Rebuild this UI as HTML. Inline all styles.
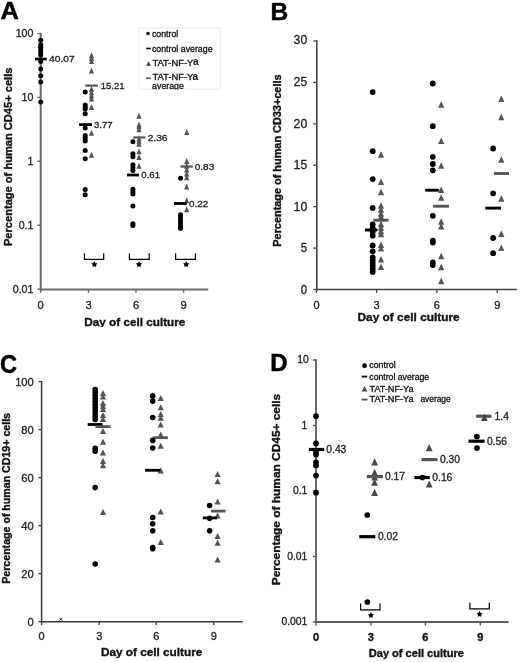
<!DOCTYPE html>
<html><head><meta charset="utf-8">
<style>
html,body{margin:0;padding:0;background:#fff;}
body{width:520px;height:662px;overflow:hidden;}
svg{display:block;font-family:"Liberation Sans", sans-serif;filter:blur(0.45px);}
</style></head>
<body>
<svg width="520" height="662" viewBox="0 0 520 662">
<rect width="520" height="662" fill="#fff"/>
<text transform="translate(0.5,19.2) scale(1.06,1.0)" x="0" y="0" font-size="24" font-weight="bold" fill="#000" stroke="#000" stroke-width="0.5">A</text>
<line x1="40.7" y1="32.7" x2="40.7" y2="290.4" stroke="#6c6c6c" stroke-width="2.0"/>
<line x1="39.7" y1="289.4" x2="208.3" y2="289.4" stroke="#6c6c6c" stroke-width="2.0"/>
<line x1="37.4" y1="33.5" x2="40.7" y2="33.5" stroke="#6c6c6c" stroke-width="1.4"/>
<text x="33.4" y="37.3" font-size="10.6" text-anchor="end" fill="#222" stroke="#222" stroke-width="0.3">100</text>
<line x1="37.4" y1="97.4" x2="40.7" y2="97.4" stroke="#6c6c6c" stroke-width="1.4"/>
<text x="33.4" y="101.2" font-size="10.6" text-anchor="end" fill="#222" stroke="#222" stroke-width="0.3">10</text>
<line x1="37.4" y1="161.3" x2="40.7" y2="161.3" stroke="#6c6c6c" stroke-width="1.4"/>
<text x="33.4" y="165.10000000000002" font-size="10.6" text-anchor="end" fill="#222" stroke="#222" stroke-width="0.3">1</text>
<line x1="37.4" y1="225.2" x2="40.7" y2="225.2" stroke="#6c6c6c" stroke-width="1.4"/>
<text x="33.4" y="229.0" font-size="10.6" text-anchor="end" fill="#222" stroke="#222" stroke-width="0.3">0.1</text>
<line x1="37.4" y1="289.1" x2="40.7" y2="289.1" stroke="#6c6c6c" stroke-width="1.4"/>
<text x="33.4" y="292.90000000000003" font-size="10.6" text-anchor="end" fill="#222" stroke="#222" stroke-width="0.3">0.01</text>
<line x1="40.7" y1="289.4" x2="40.7" y2="292.79999999999995" stroke="#6c6c6c" stroke-width="1.4"/>
<text x="40.7" y="308.6" font-size="11.2" text-anchor="middle" fill="#222" stroke="#222" stroke-width="0.3">0</text>
<line x1="88.5" y1="289.4" x2="88.5" y2="292.79999999999995" stroke="#6c6c6c" stroke-width="1.4"/>
<text x="88.5" y="308.6" font-size="11.2" text-anchor="middle" fill="#222" stroke="#222" stroke-width="0.3">3</text>
<line x1="136.0" y1="289.4" x2="136.0" y2="292.79999999999995" stroke="#6c6c6c" stroke-width="1.4"/>
<text x="136.0" y="308.6" font-size="11.2" text-anchor="middle" fill="#222" stroke="#222" stroke-width="0.3">6</text>
<line x1="183.6" y1="289.4" x2="183.6" y2="292.79999999999995" stroke="#6c6c6c" stroke-width="1.4"/>
<text x="183.6" y="308.6" font-size="11.2" text-anchor="middle" fill="#222" stroke="#222" stroke-width="0.3">9</text>
<text x="84.3" y="325.8" font-size="11.7" text-anchor="start" font-weight="bold" fill="#111" textLength="101" lengthAdjust="spacingAndGlyphs" stroke="#111" stroke-width="0.35">Day of cell culture</text>
<rect x="80" y="327" width="120" height="4" fill="#fff"/>
<text transform="translate(11.9,156.8) rotate(-90) scale(1,1.0)" x="0" y="0" font-size="11" text-anchor="middle" font-weight="bold" fill="#111" stroke="#111" stroke-width="0.35" textLength="178.5" lengthAdjust="spacingAndGlyphs">Percentage of human CD45+ cells</text>
<circle cx="40.7" cy="40.3" r="2.5" fill="#000"/>
<circle cx="40.7" cy="44.8" r="2.5" fill="#000"/>
<circle cx="40.7" cy="47.3" r="2.5" fill="#000"/>
<circle cx="40.7" cy="49.8" r="2.5" fill="#000"/>
<circle cx="40.7" cy="52.3" r="2.5" fill="#000"/>
<circle cx="40.7" cy="55.0" r="2.5" fill="#000"/>
<circle cx="40.7" cy="61.6" r="2.5" fill="#000"/>
<circle cx="40.7" cy="68.9" r="2.5" fill="#000"/>
<circle cx="40.7" cy="75.7" r="2.5" fill="#000"/>
<circle cx="40.7" cy="81.9" r="2.5" fill="#000"/>
<circle cx="40.7" cy="101.9" r="2.5" fill="#000"/>
<rect x="35.0" y="57.60" width="11.70" height="2.8" fill="#000"/>
<text x="49.1" y="62.4" font-size="9.5" text-anchor="start" fill="#222" textLength="25.52" lengthAdjust="spacingAndGlyphs" stroke="#222" stroke-width="0.3">40.07</text>
<polygon points="88.90,92.00 94.10,92.00 91.50,86.00" fill="#555555"/>
<polygon points="88.90,95.20 94.10,95.20 91.50,89.20" fill="#555555"/>
<polygon points="88.90,98.40 94.10,98.40 91.50,92.40" fill="#555555"/>
<polygon points="88.90,101.40 94.10,101.40 91.50,95.40" fill="#555555"/>
<polygon points="88.90,58.20 94.10,58.20 91.50,52.20" fill="#555555"/>
<polygon points="88.90,61.00 94.10,61.00 91.50,55.00" fill="#555555"/>
<polygon points="88.90,64.00 94.10,64.00 91.50,58.00" fill="#555555"/>
<polygon points="88.90,73.40 94.10,73.40 91.50,67.40" fill="#555555"/>
<polygon points="88.90,110.00 94.10,110.00 91.50,104.00" fill="#555555"/>
<polygon points="88.90,135.70 94.10,135.70 91.50,129.70" fill="#555555"/>
<polygon points="88.90,157.80 94.10,157.80 91.50,151.80" fill="#555555"/>
<rect x="85.4" y="84.50" width="12.50" height="2.2" fill="#555555"/>
<text x="100.7" y="89.0" font-size="9.8" text-anchor="start" fill="#222" textLength="23.9" lengthAdjust="spacingAndGlyphs" stroke="#222" stroke-width="0.3">15.21</text>
<circle cx="85.2" cy="92.0" r="2.5" fill="#000"/>
<circle cx="85.2" cy="105.0" r="2.5" fill="#000"/>
<circle cx="85.2" cy="107.0" r="2.5" fill="#000"/>
<circle cx="85.2" cy="109.0" r="2.5" fill="#000"/>
<circle cx="85.2" cy="113.8" r="2.5" fill="#000"/>
<circle cx="85.2" cy="127.9" r="2.5" fill="#000"/>
<circle cx="85.2" cy="135.6" r="2.5" fill="#000"/>
<circle cx="85.2" cy="138.0" r="2.5" fill="#000"/>
<circle cx="85.2" cy="141.0" r="2.5" fill="#000"/>
<circle cx="85.2" cy="150.4" r="2.5" fill="#000"/>
<circle cx="85.2" cy="158.7" r="2.5" fill="#000"/>
<circle cx="85.2" cy="189.6" r="2.5" fill="#000"/>
<circle cx="85.2" cy="194.8" r="2.5" fill="#000"/>
<rect x="79.0" y="123.20" width="13.00" height="2.8" fill="#000"/>
<text x="94.0" y="128.0" font-size="9.8" text-anchor="start" fill="#222" textLength="18.7" lengthAdjust="spacingAndGlyphs" stroke="#222" stroke-width="0.3">3.77</text>
<polygon points="136.40,118.80 141.60,118.80 139.00,112.80" fill="#555555"/>
<polygon points="136.40,127.40 141.60,127.40 139.00,121.40" fill="#555555"/>
<polygon points="136.40,129.30 141.60,129.30 139.00,123.30" fill="#555555"/>
<polygon points="136.40,132.20 141.60,132.20 139.00,126.20" fill="#555555"/>
<polygon points="136.40,141.50 141.60,141.50 139.00,135.50" fill="#555555"/>
<polygon points="136.40,143.80 141.60,143.80 139.00,137.80" fill="#555555"/>
<polygon points="136.40,146.70 141.60,146.70 139.00,140.70" fill="#555555"/>
<polygon points="136.40,154.30 141.60,154.30 139.00,148.30" fill="#555555"/>
<polygon points="136.40,160.10 141.60,160.10 139.00,154.10" fill="#555555"/>
<polygon points="136.40,168.80 141.60,168.80 139.00,162.80" fill="#555555"/>
<rect x="133.3" y="136.40" width="12.10" height="2.2" fill="#555555"/>
<text x="147.7" y="140.9" font-size="9.5" text-anchor="start" fill="#222" textLength="19.85" lengthAdjust="spacingAndGlyphs" stroke="#222" stroke-width="0.3">2.36</text>
<circle cx="132.9" cy="141.7" r="2.5" fill="#000"/>
<circle cx="132.9" cy="153.8" r="2.5" fill="#000"/>
<circle cx="132.9" cy="156.7" r="2.5" fill="#000"/>
<circle cx="132.9" cy="164.8" r="2.5" fill="#000"/>
<circle cx="132.9" cy="167.7" r="2.5" fill="#000"/>
<circle cx="132.9" cy="170.6" r="2.5" fill="#000"/>
<circle cx="132.9" cy="189.2" r="2.5" fill="#000"/>
<circle cx="132.9" cy="191.7" r="2.5" fill="#000"/>
<circle cx="132.9" cy="194.0" r="2.5" fill="#000"/>
<circle cx="132.9" cy="206.0" r="2.5" fill="#000"/>
<circle cx="132.9" cy="223.7" r="2.5" fill="#000"/>
<circle cx="132.9" cy="225.6" r="2.5" fill="#000"/>
<rect x="126.9" y="173.60" width="12.10" height="2.8" fill="#000"/>
<text x="141.3" y="178.4" font-size="9.5" text-anchor="start" fill="#222" textLength="18.7" lengthAdjust="spacingAndGlyphs" stroke="#222" stroke-width="0.3">0.61</text>
<polygon points="184.10,135.10 189.30,135.10 186.70,129.10" fill="#555555"/>
<polygon points="184.10,164.00 189.30,164.00 186.70,158.00" fill="#555555"/>
<polygon points="184.10,168.80 189.30,168.80 186.70,162.80" fill="#555555"/>
<polygon points="184.10,172.60 189.30,172.60 186.70,166.60" fill="#555555"/>
<polygon points="184.10,176.50 189.30,176.50 186.70,170.50" fill="#555555"/>
<polygon points="184.10,180.30 189.30,180.30 186.70,174.30" fill="#555555"/>
<polygon points="184.10,189.50 189.30,189.50 186.70,183.50" fill="#555555"/>
<polygon points="184.10,203.30 189.30,203.30 186.70,197.30" fill="#555555"/>
<polygon points="184.10,212.20 189.30,212.20 186.70,206.20" fill="#555555"/>
<rect x="180.4" y="165.40" width="12.50" height="2.2" fill="#555555"/>
<text x="194.8" y="169.9" font-size="9.5" text-anchor="start" fill="#222" textLength="19.4" lengthAdjust="spacingAndGlyphs" stroke="#222" stroke-width="0.3">0.83</text>
<circle cx="180.5" cy="178.3" r="2.5" fill="#000"/>
<circle cx="180.5" cy="214.7" r="2.5" fill="#000"/>
<circle cx="180.5" cy="217.5" r="2.5" fill="#000"/>
<circle cx="180.5" cy="220.3" r="2.5" fill="#000"/>
<circle cx="180.5" cy="223.1" r="2.5" fill="#000"/>
<circle cx="180.5" cy="225.9" r="2.5" fill="#000"/>
<circle cx="180.5" cy="228.6" r="2.5" fill="#000"/>
<rect x="174.0" y="202.10" width="12.70" height="2.8" fill="#000"/>
<text x="189.0" y="206.7" font-size="9.5" text-anchor="start" fill="#222" textLength="19.4" lengthAdjust="spacingAndGlyphs" stroke="#222" stroke-width="0.3">0.22</text>
<polyline points="84.4,253.2 84.4,259.3 103.7,259.3 103.7,253.2" fill="none" stroke="#000" stroke-width="1.2"/>
<polygon points="94.40,261.30 95.43,263.08 97.44,263.51 96.07,265.04 96.28,267.09 94.40,266.26 92.52,267.09 92.73,265.04 91.36,263.51 93.37,263.08" fill="#000"/>
<polyline points="129.4,253.2 129.4,259.3 149.2,259.3 149.2,253.2" fill="none" stroke="#000" stroke-width="1.2"/>
<polygon points="139.00,261.30 140.03,263.08 142.04,263.51 140.67,265.04 140.88,267.09 139.00,266.26 137.12,267.09 137.33,265.04 135.96,263.51 137.97,263.08" fill="#000"/>
<polyline points="175.6,253.2 175.6,259.3 195.4,259.3 195.4,253.2" fill="none" stroke="#000" stroke-width="1.2"/>
<polygon points="186.20,261.30 187.23,263.08 189.24,263.51 187.87,265.04 188.08,267.09 186.20,266.26 184.32,267.09 184.53,265.04 183.16,263.51 185.17,263.08" fill="#000"/>
<rect x="138.7" y="28.1" width="81.7" height="61.1" fill="#fff" stroke="#ebebeb" stroke-width="1"/>
<circle cx="148.0" cy="33.5" r="1.8" fill="#000"/>
<text x="151.9" y="36.6" font-size="8.8" text-anchor="start" fill="#111" stroke="#111" stroke-width="0.3">control</text>
<rect x="146.2" y="47.70" width="4.70" height="1.6" fill="#000"/>
<text x="151.9" y="51.7" font-size="8.8" text-anchor="start" fill="#111" stroke="#111" stroke-width="0.3">control average</text>
<polygon points="146.20,65.70 150.80,65.70 148.50,61.30" fill="#3a3a3a"/>
<text x="152.4" y="65.7" font-size="8.8" text-anchor="start" fill="#111" textLength="41.0" lengthAdjust="spacingAndGlyphs" stroke="#111" stroke-width="0.3">TAT-NF-Y</text>
<text x="192.9" y="64.5" font-size="10.0" text-anchor="start" font-weight="bold" fill="#1a1a1a" stroke="#1a1a1a" stroke-width="0.1">a</text>
<rect x="145.9" y="77.50" width="4.90" height="1.4" fill="#444"/>
<text x="152.4" y="80.4" font-size="8.8" text-anchor="start" fill="#111" textLength="41.0" lengthAdjust="spacingAndGlyphs" stroke="#111" stroke-width="0.3">TAT-NF-Y</text>
<text x="192.6" y="79.6" font-size="10.0" text-anchor="start" font-weight="bold" fill="#1a1a1a" stroke="#1a1a1a" stroke-width="0.1">a</text>
<text x="152.1" y="89.4" font-size="8.8" text-anchor="start" fill="#111" stroke="#111" stroke-width="0.3">average</text>
<rect x="150" y="89.7" width="40" height="3" fill="#fff"/>
<text transform="translate(270.6,19.5) scale(1.02,1.0)" x="0" y="0" font-size="24" font-weight="bold" fill="#000" stroke="#000" stroke-width="0.5">B</text>
<line x1="316.8" y1="40.31000000000002" x2="316.8" y2="290.3" stroke="#444" stroke-width="1.6"/>
<line x1="316.0" y1="289.5" x2="516.8" y2="289.5" stroke="#444" stroke-width="1.6"/>
<line x1="313.2" y1="289.5" x2="316.8" y2="289.5" stroke="#444" stroke-width="1.3"/>
<text x="307.2" y="293.5" font-size="12.4" text-anchor="end" fill="#222" textLength="6.4" lengthAdjust="spacingAndGlyphs" stroke="#222" stroke-width="0.3">0</text>
<line x1="313.2" y1="248.085" x2="316.8" y2="248.085" stroke="#444" stroke-width="1.3"/>
<text x="307.2" y="252.085" font-size="12.4" text-anchor="end" fill="#222" textLength="6.4" lengthAdjust="spacingAndGlyphs" stroke="#222" stroke-width="0.3">5</text>
<line x1="313.2" y1="206.67000000000002" x2="316.8" y2="206.67000000000002" stroke="#444" stroke-width="1.3"/>
<text x="307.2" y="210.67000000000002" font-size="12.4" text-anchor="end" fill="#222" textLength="13.6" lengthAdjust="spacingAndGlyphs" stroke="#222" stroke-width="0.3">10</text>
<line x1="313.2" y1="165.255" x2="316.8" y2="165.255" stroke="#444" stroke-width="1.3"/>
<text x="307.2" y="169.255" font-size="12.4" text-anchor="end" fill="#222" textLength="13.6" lengthAdjust="spacingAndGlyphs" stroke="#222" stroke-width="0.3">15</text>
<line x1="313.2" y1="123.84" x2="316.8" y2="123.84" stroke="#444" stroke-width="1.3"/>
<text x="307.2" y="127.84" font-size="12.4" text-anchor="end" fill="#222" textLength="13.6" lengthAdjust="spacingAndGlyphs" stroke="#222" stroke-width="0.3">20</text>
<line x1="313.2" y1="82.42500000000001" x2="316.8" y2="82.42500000000001" stroke="#444" stroke-width="1.3"/>
<text x="307.2" y="86.42500000000001" font-size="12.4" text-anchor="end" fill="#222" textLength="13.6" lengthAdjust="spacingAndGlyphs" stroke="#222" stroke-width="0.3">25</text>
<line x1="313.2" y1="41.01000000000002" x2="316.8" y2="41.01000000000002" stroke="#444" stroke-width="1.3"/>
<text x="307.2" y="44.01000000000002" font-size="12.4" text-anchor="end" fill="#222" textLength="13.6" lengthAdjust="spacingAndGlyphs" stroke="#222" stroke-width="0.3">30</text>
<line x1="316.5" y1="289.5" x2="316.5" y2="292.9" stroke="#444" stroke-width="1.3"/>
<text x="316.5" y="308.7" font-size="11.0" text-anchor="middle" fill="#222" stroke="#222" stroke-width="0.3">0</text>
<line x1="376.6" y1="289.5" x2="376.6" y2="292.9" stroke="#444" stroke-width="1.3"/>
<text x="376.6" y="308.7" font-size="11.0" text-anchor="middle" fill="#222" stroke="#222" stroke-width="0.3">3</text>
<line x1="436.9" y1="289.5" x2="436.9" y2="292.9" stroke="#444" stroke-width="1.3"/>
<text x="436.9" y="308.7" font-size="11.0" text-anchor="middle" fill="#222" stroke="#222" stroke-width="0.3">6</text>
<line x1="497.2" y1="289.5" x2="497.2" y2="292.9" stroke="#444" stroke-width="1.3"/>
<text x="497.2" y="308.7" font-size="11.0" text-anchor="middle" fill="#222" stroke="#222" stroke-width="0.3">9</text>
<text x="357.5" y="320.6" font-size="11.3" text-anchor="start" font-weight="bold" fill="#111" textLength="102.2" lengthAdjust="spacingAndGlyphs" stroke="#111" stroke-width="0.35">Day of cell culture</text>
<text transform="translate(280.5,160.6) rotate(-90) scale(1,1.0)" x="0" y="0" font-size="10.2" text-anchor="middle" font-weight="bold" fill="#111" stroke="#111" stroke-width="0.35" textLength="172.2" lengthAdjust="spacingAndGlyphs">Percentage of human CD33+cells</text>
<polygon points="377.85,157.85 384.15,157.85 381.00,151.35" fill="#555555"/>
<polygon points="377.85,185.05 384.15,185.05 381.00,178.55" fill="#555555"/>
<polygon points="377.85,195.25 384.15,195.25 381.00,188.75" fill="#555555"/>
<polygon points="377.85,208.75 384.15,208.75 381.00,202.25" fill="#555555"/>
<polygon points="377.85,212.75 384.15,212.75 381.00,206.25" fill="#555555"/>
<polygon points="377.85,216.75 384.15,216.75 381.00,210.25" fill="#555555"/>
<polygon points="377.85,219.75 384.15,219.75 381.00,213.25" fill="#555555"/>
<polygon points="377.85,227.25 384.15,227.25 381.00,220.75" fill="#555555"/>
<polygon points="377.85,230.75 384.15,230.75 381.00,224.25" fill="#555555"/>
<polygon points="377.85,234.25 384.15,234.25 381.00,227.75" fill="#555555"/>
<polygon points="377.85,237.25 384.15,237.25 381.00,230.75" fill="#555555"/>
<polygon points="377.85,248.05 384.15,248.05 381.00,241.55" fill="#555555"/>
<polygon points="377.85,251.55 384.15,251.55 381.00,245.05" fill="#555555"/>
<polygon points="377.85,262.45 384.15,262.45 381.00,255.95" fill="#555555"/>
<polygon points="377.85,269.95 384.15,269.95 381.00,263.45" fill="#555555"/>
<rect x="373.4" y="218.75" width="15.20" height="2.9" fill="#555555"/>
<circle cx="372.7" cy="92.1" r="2.9" fill="#000"/>
<circle cx="372.7" cy="151.2" r="2.9" fill="#000"/>
<circle cx="372.7" cy="179.1" r="2.9" fill="#000"/>
<circle cx="372.7" cy="208.0" r="2.9" fill="#000"/>
<circle cx="372.7" cy="224.4" r="2.9" fill="#000"/>
<circle cx="372.7" cy="228.2" r="2.9" fill="#000"/>
<circle cx="372.7" cy="232.0" r="2.9" fill="#000"/>
<circle cx="372.7" cy="235.7" r="2.9" fill="#000"/>
<circle cx="372.7" cy="245.4" r="2.9" fill="#000"/>
<circle cx="372.7" cy="251.3" r="2.9" fill="#000"/>
<circle cx="372.7" cy="257.3" r="2.9" fill="#000"/>
<circle cx="372.7" cy="260.2" r="2.9" fill="#000"/>
<circle cx="372.7" cy="263.1" r="2.9" fill="#000"/>
<circle cx="372.7" cy="266.0" r="2.9" fill="#000"/>
<circle cx="372.7" cy="269.0" r="2.9" fill="#000"/>
<circle cx="372.7" cy="272.0" r="2.9" fill="#000"/>
<rect x="365.0" y="228.55" width="12.50" height="2.9" fill="#000"/>
<polygon points="438.05,107.85 444.35,107.85 441.20,101.35" fill="#555555"/>
<polygon points="438.05,144.05 444.35,144.05 441.20,137.55" fill="#555555"/>
<polygon points="438.05,168.75 444.35,168.75 441.20,162.25" fill="#555555"/>
<polygon points="438.05,193.05 444.35,193.05 441.20,186.55" fill="#555555"/>
<polygon points="438.05,200.75 444.35,200.75 441.20,194.25" fill="#555555"/>
<polygon points="438.05,224.75 444.35,224.75 441.20,218.25" fill="#555555"/>
<polygon points="438.05,229.55 444.35,229.55 441.20,223.05" fill="#555555"/>
<polygon points="438.05,259.25 444.35,259.25 441.20,252.75" fill="#555555"/>
<polygon points="438.05,270.15 444.35,270.15 441.20,263.65" fill="#555555"/>
<polygon points="438.05,284.25 444.35,284.25 441.20,277.75" fill="#555555"/>
<rect x="433.1" y="204.75" width="15.80" height="2.9" fill="#555555"/>
<circle cx="432.8" cy="83.5" r="2.9" fill="#000"/>
<circle cx="432.8" cy="126.2" r="2.9" fill="#000"/>
<circle cx="432.8" cy="156.8" r="2.9" fill="#000"/>
<circle cx="432.8" cy="164.0" r="2.9" fill="#000"/>
<circle cx="432.8" cy="170.3" r="2.9" fill="#000"/>
<circle cx="432.8" cy="215.8" r="2.9" fill="#000"/>
<circle cx="432.8" cy="240.6" r="2.9" fill="#000"/>
<circle cx="432.8" cy="242.5" r="2.9" fill="#000"/>
<circle cx="432.8" cy="262.3" r="2.9" fill="#000"/>
<circle cx="432.8" cy="265.0" r="2.9" fill="#000"/>
<rect x="425.2" y="188.75" width="13.60" height="2.9" fill="#000"/>
<polygon points="498.15,102.05 504.45,102.05 501.30,95.55" fill="#555555"/>
<polygon points="498.15,120.35 504.45,120.35 501.30,113.85" fill="#555555"/>
<polygon points="498.15,162.65 504.45,162.65 501.30,156.15" fill="#555555"/>
<polygon points="498.15,201.75 504.45,201.75 501.30,195.25" fill="#555555"/>
<polygon points="498.15,237.05 504.45,237.05 501.30,230.55" fill="#555555"/>
<polygon points="498.15,250.95 504.45,250.95 501.30,244.45" fill="#555555"/>
<rect x="494.0" y="172.05" width="15.00" height="2.9" fill="#555555"/>
<circle cx="493.1" cy="148.5" r="2.9" fill="#000"/>
<circle cx="493.1" cy="193.3" r="2.9" fill="#000"/>
<circle cx="493.1" cy="238.0" r="2.9" fill="#000"/>
<circle cx="493.1" cy="253.2" r="2.9" fill="#000"/>
<rect x="485.4" y="206.65" width="15.60" height="2.9" fill="#000"/>
<text transform="translate(0.0,372.6) scale(0.98,1.07)" x="0" y="0" font-size="24" font-weight="bold" fill="#000" stroke="#000" stroke-width="0.5">C</text>
<line x1="41.6" y1="380.9000000000001" x2="41.6" y2="622.5" stroke="#3a3a3a" stroke-width="1.5"/>
<line x1="40.800000000000004" y1="621.7" x2="242.7" y2="621.7" stroke="#3a3a3a" stroke-width="1.5"/>
<line x1="38.6" y1="621.7" x2="41.6" y2="621.7" stroke="#3a3a3a" stroke-width="1.3"/>
<text x="33.8" y="625.7" font-size="11.2" text-anchor="end" fill="#222" stroke="#222" stroke-width="0.3">0</text>
<line x1="38.6" y1="573.6800000000001" x2="41.6" y2="573.6800000000001" stroke="#3a3a3a" stroke-width="1.3"/>
<text x="33.8" y="577.6800000000001" font-size="11.2" text-anchor="end" fill="#222" stroke="#222" stroke-width="0.3">20</text>
<line x1="38.6" y1="525.6600000000001" x2="41.6" y2="525.6600000000001" stroke="#3a3a3a" stroke-width="1.3"/>
<text x="33.8" y="529.6600000000001" font-size="11.2" text-anchor="end" fill="#222" stroke="#222" stroke-width="0.3">40</text>
<line x1="38.6" y1="477.64000000000004" x2="41.6" y2="477.64000000000004" stroke="#3a3a3a" stroke-width="1.3"/>
<text x="33.8" y="481.64000000000004" font-size="11.2" text-anchor="end" fill="#222" stroke="#222" stroke-width="0.3">60</text>
<line x1="38.6" y1="429.62000000000006" x2="41.6" y2="429.62000000000006" stroke="#3a3a3a" stroke-width="1.3"/>
<text x="33.8" y="433.62000000000006" font-size="11.2" text-anchor="end" fill="#222" stroke="#222" stroke-width="0.3">80</text>
<line x1="38.6" y1="381.6000000000001" x2="41.6" y2="381.6000000000001" stroke="#3a3a3a" stroke-width="1.3"/>
<text x="33.8" y="385.6000000000001" font-size="11.2" text-anchor="end" fill="#222" stroke="#222" stroke-width="0.3">100</text>
<line x1="41.6" y1="621.7" x2="41.6" y2="625.1" stroke="#3a3a3a" stroke-width="1.3"/>
<text x="41.6" y="639.6" font-size="11.0" text-anchor="middle" fill="#222" stroke="#222" stroke-width="0.3">0</text>
<line x1="99.2" y1="621.7" x2="99.2" y2="625.1" stroke="#3a3a3a" stroke-width="1.3"/>
<text x="99.2" y="639.6" font-size="11.0" text-anchor="middle" fill="#222" stroke="#222" stroke-width="0.3">3</text>
<line x1="156.2" y1="621.7" x2="156.2" y2="625.1" stroke="#3a3a3a" stroke-width="1.3"/>
<text x="156.2" y="639.6" font-size="11.0" text-anchor="middle" fill="#222" stroke="#222" stroke-width="0.3">6</text>
<line x1="213.8" y1="621.7" x2="213.8" y2="625.1" stroke="#3a3a3a" stroke-width="1.3"/>
<text x="213.8" y="639.6" font-size="11.0" text-anchor="middle" fill="#222" stroke="#222" stroke-width="0.3">9</text>
<text x="100.9" y="656.2" font-size="11.5" text-anchor="start" font-weight="bold" fill="#111" textLength="101.4" lengthAdjust="spacingAndGlyphs" stroke="#111" stroke-width="0.35">Day of cell culture</text>
<text transform="translate(9.9,498.4) rotate(-90) scale(1,1.0)" x="0" y="0" font-size="10.1" text-anchor="middle" font-weight="bold" fill="#111" stroke="#111" stroke-width="0.35" textLength="170.8" lengthAdjust="spacingAndGlyphs">Percentage of human CD19+ cells</text>
<path d="M59.4,617.8 L62.2,620.6 M62.2,617.8 L59.4,620.6" stroke="#333" stroke-width="1.0"/>
<polygon points="99.90,396.00 106.10,396.00 103.00,390.00" fill="#555555"/>
<polygon points="99.90,399.50 106.10,399.50 103.00,393.50" fill="#555555"/>
<polygon points="99.90,406.00 106.10,406.00 103.00,400.00" fill="#555555"/>
<polygon points="99.90,409.00 106.10,409.00 103.00,403.00" fill="#555555"/>
<polygon points="99.90,412.00 106.10,412.00 103.00,406.00" fill="#555555"/>
<polygon points="99.90,418.00 106.10,418.00 103.00,412.00" fill="#555555"/>
<polygon points="99.90,422.00 106.10,422.00 103.00,416.00" fill="#555555"/>
<polygon points="99.90,434.00 106.10,434.00 103.00,428.00" fill="#555555"/>
<polygon points="99.90,444.70 106.10,444.70 103.00,438.70" fill="#555555"/>
<polygon points="99.90,455.40 106.10,455.40 103.00,449.40" fill="#555555"/>
<polygon points="99.90,464.00 106.10,464.00 103.00,458.00" fill="#555555"/>
<polygon points="99.90,468.30 106.10,468.30 103.00,462.30" fill="#555555"/>
<polygon points="99.90,515.10 106.10,515.10 103.00,509.10" fill="#555555"/>
<circle cx="95.2" cy="389.6" r="2.8" fill="#000"/>
<circle cx="95.2" cy="392.5" r="2.8" fill="#000"/>
<circle cx="95.2" cy="395.5" r="2.8" fill="#000"/>
<circle cx="95.2" cy="398.5" r="2.8" fill="#000"/>
<circle cx="95.2" cy="401.5" r="2.8" fill="#000"/>
<circle cx="95.2" cy="404.5" r="2.8" fill="#000"/>
<circle cx="95.2" cy="407.5" r="2.8" fill="#000"/>
<circle cx="95.2" cy="410.5" r="2.8" fill="#000"/>
<circle cx="95.2" cy="413.5" r="2.8" fill="#000"/>
<circle cx="95.2" cy="416.5" r="2.8" fill="#000"/>
<circle cx="95.2" cy="419.5" r="2.8" fill="#000"/>
<circle cx="95.2" cy="448.4" r="2.8" fill="#000"/>
<circle cx="95.2" cy="451.2" r="2.8" fill="#000"/>
<circle cx="95.2" cy="487.6" r="2.8" fill="#000"/>
<circle cx="95.2" cy="564.0" r="2.8" fill="#000"/>
<rect x="87.7" y="423.10" width="14.80" height="2.8" fill="#000"/>
<rect x="95.5" y="425.20" width="15.10" height="2.8" fill="#555555"/>
<polygon points="157.60,401.10 163.80,401.10 160.70,395.10" fill="#555555"/>
<polygon points="157.60,410.20 163.80,410.20 160.70,404.20" fill="#555555"/>
<polygon points="157.60,417.00 163.80,417.00 160.70,411.00" fill="#555555"/>
<polygon points="157.60,420.80 163.80,420.80 160.70,414.80" fill="#555555"/>
<polygon points="157.60,427.60 163.80,427.60 160.70,421.60" fill="#555555"/>
<polygon points="157.60,437.40 163.80,437.40 160.70,431.40" fill="#555555"/>
<polygon points="157.60,448.70 163.80,448.70 160.70,442.70" fill="#555555"/>
<polygon points="157.60,473.60 163.80,473.60 160.70,467.60" fill="#555555"/>
<polygon points="157.60,514.50 163.80,514.50 160.70,508.50" fill="#555555"/>
<polygon points="157.60,544.90 163.80,544.90 160.70,538.90" fill="#555555"/>
<rect x="152.7" y="436.30" width="15.10" height="2.8" fill="#555555"/>
<circle cx="152.7" cy="395.9" r="2.8" fill="#000"/>
<circle cx="152.7" cy="401.1" r="2.8" fill="#000"/>
<circle cx="152.7" cy="417.5" r="2.8" fill="#000"/>
<circle cx="152.7" cy="440.4" r="2.8" fill="#000"/>
<circle cx="152.7" cy="448.0" r="2.8" fill="#000"/>
<circle cx="152.7" cy="517.5" r="2.8" fill="#000"/>
<circle cx="152.7" cy="523.7" r="2.8" fill="#000"/>
<circle cx="152.7" cy="530.8" r="2.8" fill="#000"/>
<circle cx="152.7" cy="547.6" r="2.8" fill="#000"/>
<circle cx="152.7" cy="548.8" r="2.8" fill="#000"/>
<rect x="145.1" y="468.90" width="15.10" height="2.8" fill="#000"/>
<polygon points="214.50,477.10 220.70,477.10 217.60,471.10" fill="#555555"/>
<polygon points="214.50,484.30 220.70,484.30 217.60,478.30" fill="#555555"/>
<polygon points="214.50,504.60 220.70,504.60 217.60,498.60" fill="#555555"/>
<polygon points="214.50,518.60 220.70,518.60 217.60,512.60" fill="#555555"/>
<polygon points="214.50,539.00 220.70,539.00 217.60,533.00" fill="#555555"/>
<polygon points="214.50,545.80 220.70,545.80 217.60,539.80" fill="#555555"/>
<polygon points="214.50,562.40 220.70,562.40 217.60,556.40" fill="#555555"/>
<rect x="211.1" y="509.70" width="14.40" height="2.8" fill="#555555"/>
<circle cx="209.6" cy="505.5" r="2.8" fill="#000"/>
<circle cx="209.6" cy="518.2" r="2.8" fill="#000"/>
<circle cx="209.6" cy="530.7" r="2.8" fill="#000"/>
<rect x="202.8" y="516.50" width="14.40" height="2.8" fill="#000"/>
<text transform="translate(270.3,371.0) scale(1.0,1.0)" x="0" y="0" font-size="24" font-weight="bold" fill="#000" stroke="#000" stroke-width="0.5">D</text>
<line x1="316.0" y1="359.2" x2="316.0" y2="622.9" stroke="#5a5a5a" stroke-width="1.8"/>
<line x1="315.1" y1="622.0" x2="508.5" y2="622.0" stroke="#5a5a5a" stroke-width="1.8"/>
<line x1="312.9" y1="360.0" x2="316.0" y2="360.0" stroke="#5a5a5a" stroke-width="1.4"/>
<text x="308.7" y="362.9" font-size="10.4" text-anchor="end" fill="#222" stroke="#222" stroke-width="0.3">10</text>
<line x1="312.9" y1="425.5" x2="316.0" y2="425.5" stroke="#5a5a5a" stroke-width="1.4"/>
<text x="307.4" y="428.7" font-size="10.4" text-anchor="end" fill="#222" stroke="#222" stroke-width="0.3">1</text>
<line x1="312.9" y1="491.0" x2="316.0" y2="491.0" stroke="#5a5a5a" stroke-width="1.4"/>
<text x="307.4" y="494.2" font-size="10.4" text-anchor="end" fill="#222" stroke="#222" stroke-width="0.3">0.1</text>
<line x1="312.9" y1="556.5" x2="316.0" y2="556.5" stroke="#5a5a5a" stroke-width="1.4"/>
<text x="307.4" y="559.7" font-size="10.4" text-anchor="end" fill="#222" stroke="#222" stroke-width="0.3">0.01</text>
<line x1="312.9" y1="622.0" x2="316.0" y2="622.0" stroke="#5a5a5a" stroke-width="1.4"/>
<text x="307.4" y="625.2" font-size="10.4" text-anchor="end" fill="#222" stroke="#222" stroke-width="0.3">0.001</text>
<line x1="316.0" y1="622.0" x2="316.0" y2="625.4" stroke="#5a5a5a" stroke-width="1.4"/>
<text x="316.0" y="640.9" font-size="11.0" text-anchor="middle" font-weight="bold" fill="#111" stroke="#111" stroke-width="0.35">0</text>
<line x1="370.9" y1="622.0" x2="370.9" y2="625.4" stroke="#5a5a5a" stroke-width="1.4"/>
<text x="370.9" y="640.9" font-size="11.0" text-anchor="middle" font-weight="bold" fill="#111" stroke="#111" stroke-width="0.35">3</text>
<line x1="425.4" y1="622.0" x2="425.4" y2="625.4" stroke="#5a5a5a" stroke-width="1.4"/>
<text x="425.4" y="640.9" font-size="11.0" text-anchor="middle" font-weight="bold" fill="#111" stroke="#111" stroke-width="0.35">6</text>
<line x1="480.3" y1="622.0" x2="480.3" y2="625.4" stroke="#5a5a5a" stroke-width="1.4"/>
<text x="480.3" y="640.9" font-size="11.0" text-anchor="middle" font-weight="bold" fill="#111" stroke="#111" stroke-width="0.35">9</text>
<text x="368.8" y="657.3" font-size="11.0" text-anchor="start" font-weight="bold" fill="#111" textLength="95.1" lengthAdjust="spacingAndGlyphs" stroke="#111" stroke-width="0.35">Day of cell culture</text>
<text transform="translate(280.4,489.5) rotate(-90) scale(1,1.0)" x="0" y="0" font-size="10.6" text-anchor="middle" font-weight="bold" fill="#111" stroke="#111" stroke-width="0.35" textLength="191.4" lengthAdjust="spacingAndGlyphs">Percentage of human CD45+ cells</text>
<circle cx="316.0" cy="416.2" r="2.85" fill="#000"/>
<circle cx="316.0" cy="443.4" r="2.85" fill="#000"/>
<circle cx="316.0" cy="451.8" r="2.85" fill="#000"/>
<circle cx="316.0" cy="454.6" r="2.85" fill="#000"/>
<circle cx="316.0" cy="462.3" r="2.85" fill="#000"/>
<circle cx="316.0" cy="465.5" r="2.85" fill="#000"/>
<circle cx="316.0" cy="475.6" r="2.85" fill="#000"/>
<circle cx="316.0" cy="492.7" r="2.85" fill="#000"/>
<rect x="308.8" y="447.90" width="15.40" height="3.2" fill="#000"/>
<text x="326.3" y="452.8" font-size="10.3" text-anchor="start" fill="#222" stroke="#222" stroke-width="0.3">0.43</text>
<polygon points="371.20,465.40 378.00,465.40 374.60,458.20" fill="#484848"/>
<polygon points="371.20,475.90 378.00,475.90 374.60,468.70" fill="#484848"/>
<polygon points="371.20,480.60 378.00,480.60 374.60,473.40" fill="#484848"/>
<polygon points="371.20,485.80 378.00,485.80 374.60,478.60" fill="#484848"/>
<polygon points="371.20,495.90 378.00,495.90 374.60,488.70" fill="#484848"/>
<rect x="366.8" y="475.00" width="16.20" height="3.2" fill="#555555"/>
<text x="385.0" y="479.6" font-size="10.3" text-anchor="start" fill="#222" stroke="#222" stroke-width="0.3">0.17</text>
<circle cx="367.3" cy="515.0" r="2.85" fill="#000"/>
<circle cx="367.3" cy="602.0" r="2.85" fill="#000"/>
<rect x="359.3" y="535.10" width="16.00" height="3.2" fill="#000"/>
<text x="377.9" y="540.2" font-size="10.3" text-anchor="start" fill="#222" stroke="#222" stroke-width="0.3">0.02</text>
<polygon points="425.80,451.30 432.60,451.30 429.20,444.10" fill="#484848"/>
<polygon points="425.80,487.60 432.60,487.60 429.20,480.40" fill="#484848"/>
<rect x="421.5" y="458.00" width="16.00" height="3.2" fill="#555555"/>
<text x="440.0" y="463.2" font-size="10.3" text-anchor="start" fill="#222" stroke="#222" stroke-width="0.3">0.30</text>
<rect x="414.4" y="475.90" width="15.40" height="3.2" fill="#000"/>
<circle cx="422.5" cy="477.5" r="2.85" fill="#000"/>
<text x="432.3" y="481.1" font-size="10.3" text-anchor="start" fill="#222" stroke="#222" stroke-width="0.3">0.16</text>
<rect x="476.2" y="414.60" width="15.30" height="3.2" fill="#555555"/>
<polygon points="481.00,420.90 487.80,420.90 484.40,413.70" fill="#484848"/>
<text x="494.6" y="419.8" font-size="10.3" text-anchor="start" fill="#222" stroke="#222" stroke-width="0.3">1.4</text>
<circle cx="476.9" cy="436.5" r="2.85" fill="#000"/>
<circle cx="476.9" cy="448.1" r="2.85" fill="#000"/>
<rect x="468.5" y="439.60" width="16.10" height="3.2" fill="#000"/>
<text x="486.9" y="444.8" font-size="10.3" text-anchor="start" fill="#222" stroke="#222" stroke-width="0.3">0.56</text>
<polyline points="360.6,603.6 360.6,609.9 380.0,609.9 380.0,603.6" fill="none" stroke="#000" stroke-width="1.2"/>
<polygon points="370.90,612.30 371.90,614.02 373.85,614.44 372.52,615.93 372.72,617.91 370.90,617.11 369.08,617.91 369.28,615.93 367.95,614.44 369.90,614.02" fill="#000"/>
<polyline points="469.9,602.8 469.9,608.8 489.3,608.8 489.3,602.8" fill="none" stroke="#000" stroke-width="1.2"/>
<polygon points="479.60,611.10 480.60,612.82 482.55,613.24 481.22,614.73 481.42,616.71 479.60,615.91 477.78,616.71 477.98,614.73 476.65,613.24 478.60,612.82" fill="#000"/>
<circle cx="364.5" cy="365.7" r="2.4" fill="#000"/>
<text x="369.3" y="368.1" font-size="8.8" text-anchor="start" fill="#111" stroke="#111" stroke-width="0.3">control</text>
<rect x="361.6" y="375.70" width="5.60" height="1.8" fill="#000"/>
<text x="369.3" y="379.5" font-size="8.7" text-anchor="start" fill="#111" stroke="#111" stroke-width="0.3">control average</text>
<polygon points="361.70,391.50 367.50,391.50 364.60,386.10" fill="#4a4a4a"/>
<text x="369.5" y="391.6" font-size="8.7" text-anchor="start" fill="#111" textLength="44.0" lengthAdjust="spacingAndGlyphs" stroke="#111" stroke-width="0.3">TAT-NF-Ya</text>
<rect x="361.6" y="398.70" width="5.80" height="1.8" fill="#4a4a4a"/>
<text x="369.5" y="402.4" font-size="8.7" text-anchor="start" fill="#111" textLength="44.0" lengthAdjust="spacingAndGlyphs" stroke="#111" stroke-width="0.3">TAT-NF-Ya</text>
<text x="420.4" y="402.4" font-size="8.4" text-anchor="start" fill="#111" stroke="#111" stroke-width="0.3">average</text>
</svg>
</body></html>
